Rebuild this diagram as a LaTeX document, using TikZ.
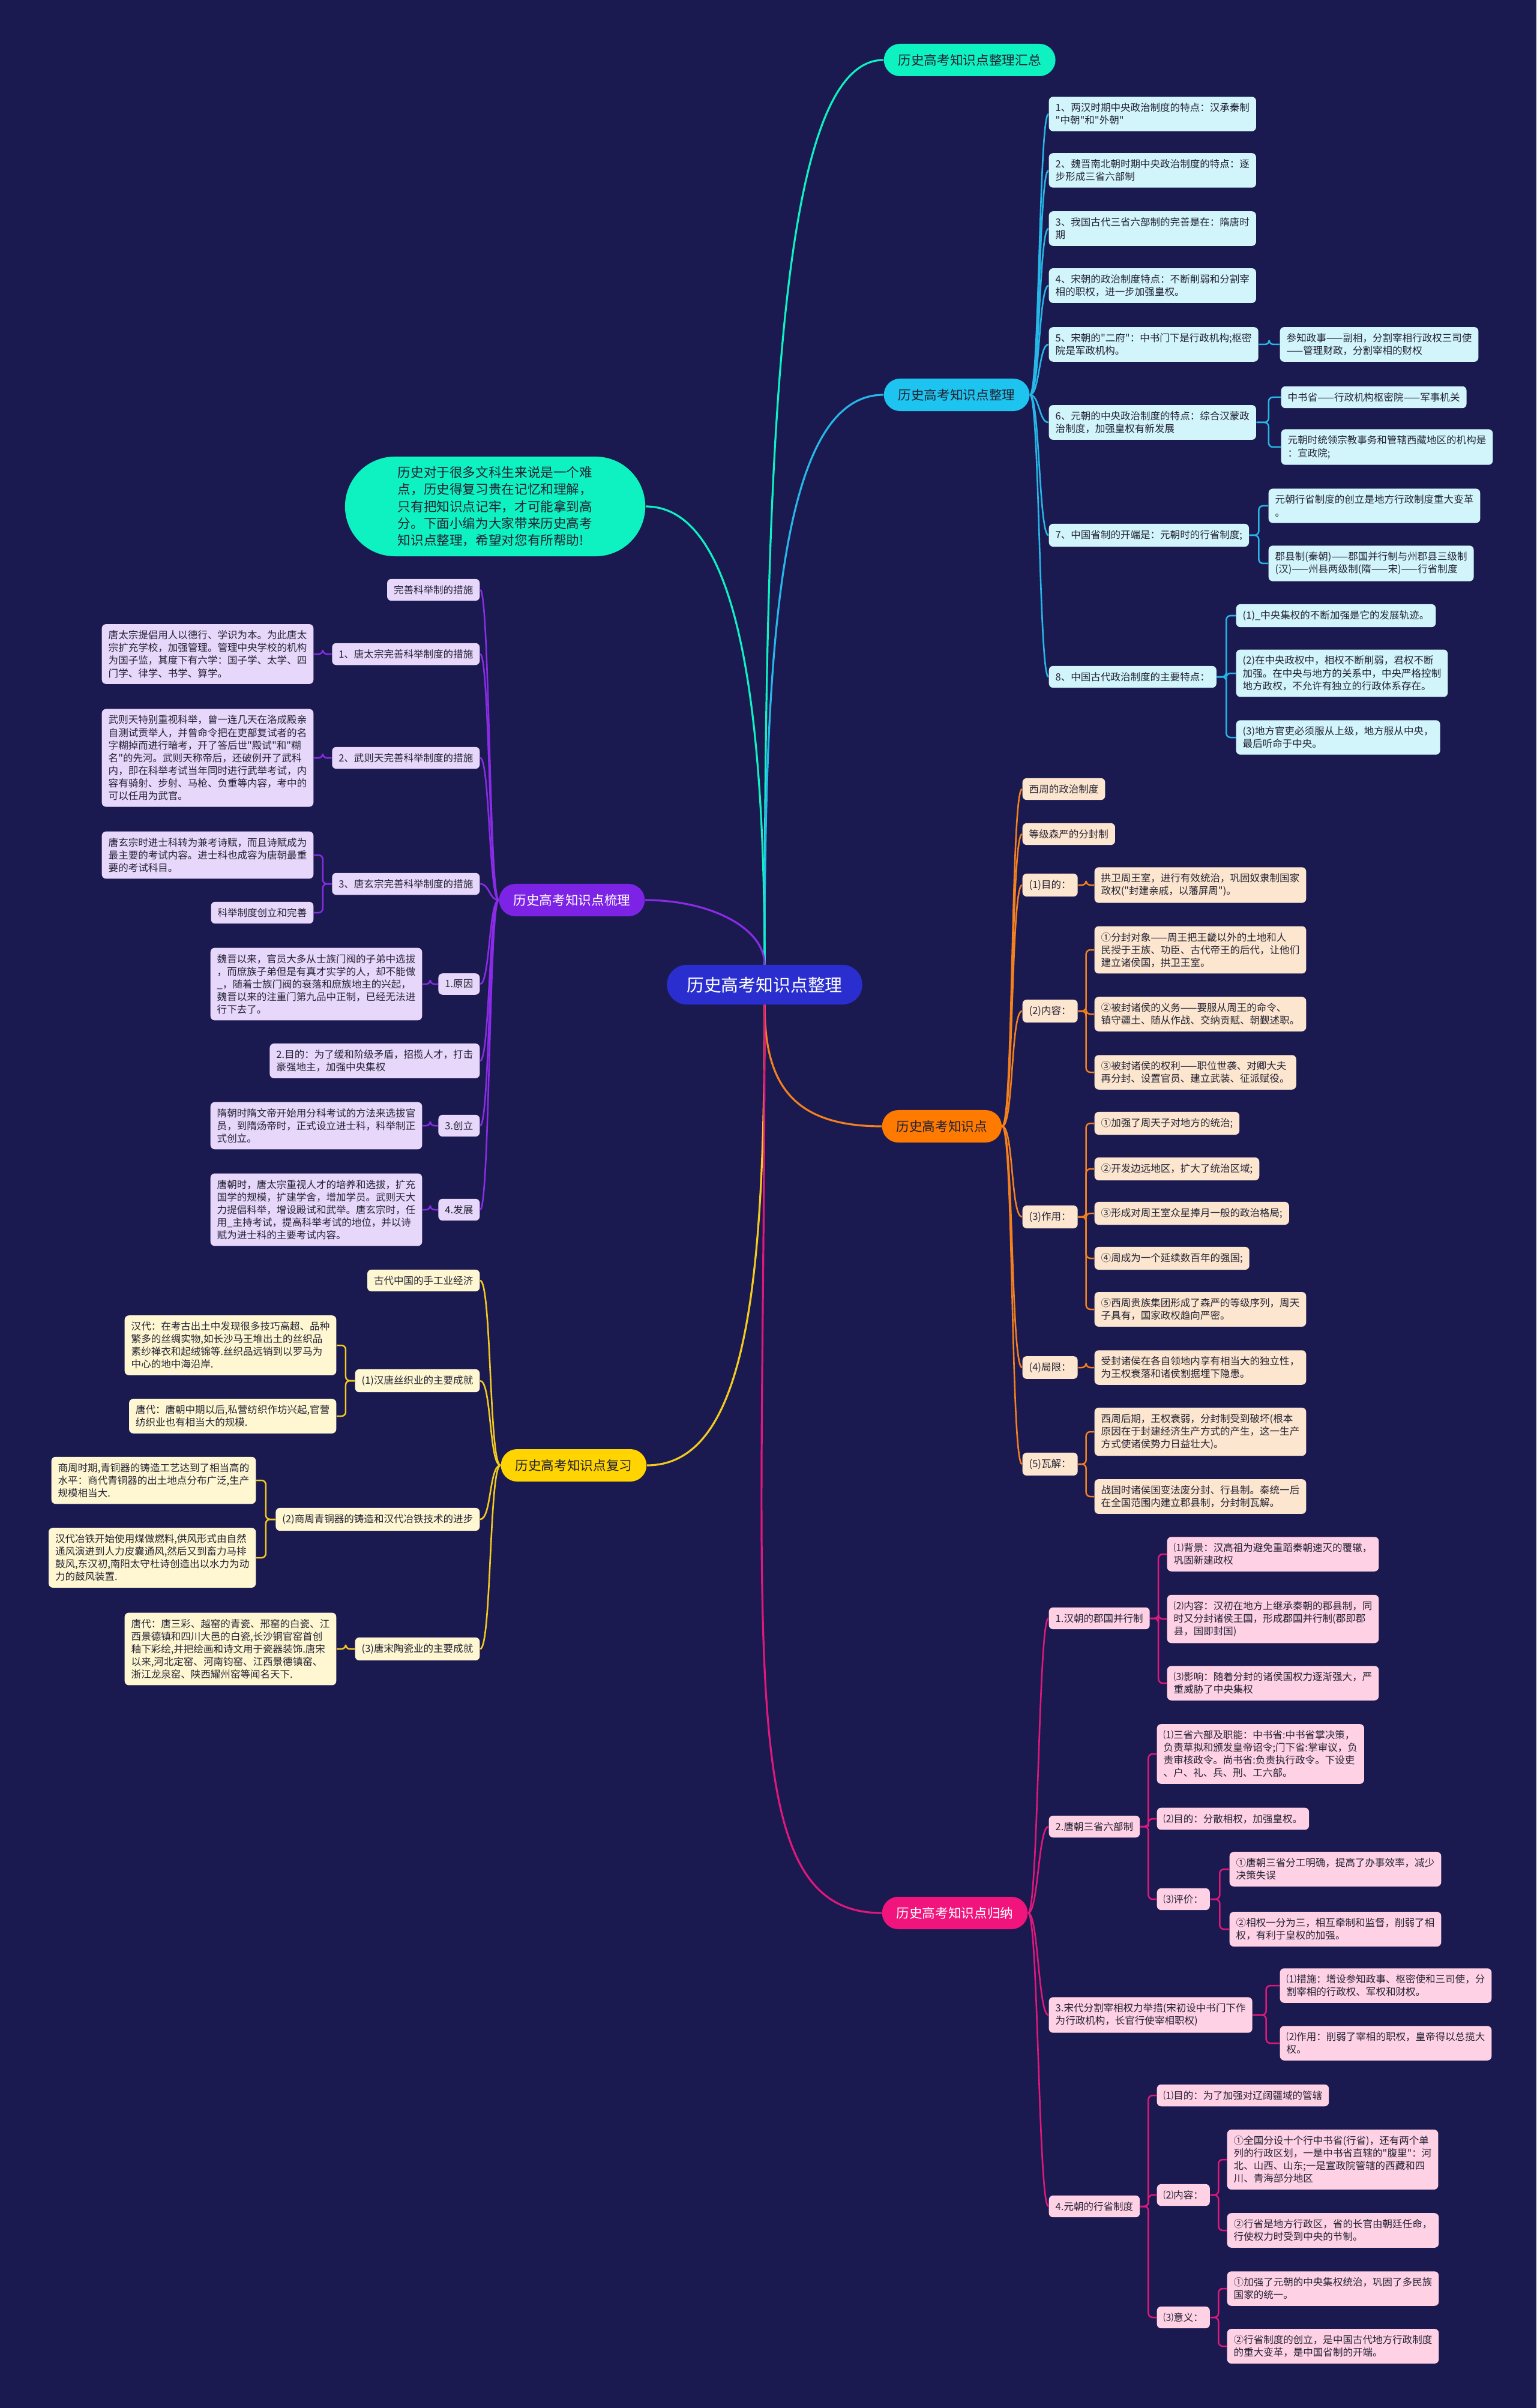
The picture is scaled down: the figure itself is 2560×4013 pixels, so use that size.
\documentclass[tikz,border=0pt]{standalone}
\usepackage{fontspec}
\setmainfont{Noto Sans CJK SC}
\newfontfamily\zhfont{Noto Sans CJK SC}
\usetikzlibrary{calc}

\definecolor{bgnavy}{HTML}{1B1A50}
\definecolor{rootblue}{HTML}{2A2ECF}
\definecolor{tealtop}{HTML}{0EF2C2}
\definecolor{cyantop}{HTML}{1DC4EF}
\definecolor{cyanlt}{HTML}{D2F5FC}
\definecolor{cyanln}{HTML}{26B7E8}
\definecolor{purptop}{HTML}{7C23E6}
\definecolor{purplt}{HTML}{E7D7FA}
\definecolor{purpln}{HTML}{8A2BE6}
\definecolor{orgtop}{HTML}{FF7A00}
\definecolor{orglt}{HTML}{FDE6CF}
\definecolor{orgln}{HTML}{F4801E}
\definecolor{yeltop}{HTML}{FFD400}
\definecolor{yellt}{HTML}{FFF7D2}
\definecolor{yelln}{HTML}{F3CB1E}
\definecolor{pinktop}{HTML}{F0147C}
\definecolor{pinklt}{HTML}{FFD1E5}
\definecolor{pinkln}{HTML}{E1187B}
\definecolor{inkdark}{HTML}{222233}

\tikzset{
  rootnode/.style={fill=rootblue, text=white, rounded corners=0.33cm, minimum height=0.66cm, inner xsep=0.33cm, font=\zhfont\fontsize{8.2pt}{10pt}\selectfont},
  intronode/.style={fill=tealtop, text=inkdark, rounded corners=0.83cm, minimum width=5.0cm, minimum height=1.66cm, align=left, font=\zhfont\fontsize{6.15pt}{8.1pt}\selectfont},
  topic/.style={rounded corners=0.27cm, minimum height=0.54cm, inner xsep=0.24cm, inner ysep=0.05cm, font=\zhfont\fontsize{6.15pt}{7.5pt}\selectfont},
  leaf/.style={rounded corners=0.07cm, inner xsep=0.11cm, inner ysep=0.105cm, align=left, text=inkdark, font=\zhfont\fontsize{4.7pt}{6pt}\selectfont},
  cyanleaf/.style={leaf, fill=cyanlt},
  purpleaf/.style={leaf, fill=purplt},
  orgleaf/.style={leaf, fill=orglt},
  yelleaf/.style={leaf, fill=yellt},
  pinkleaf/.style={leaf, fill=pinklt},
  rootlink/.style={line width=0.032cm},
  branch/.style={line width=0.026cm},
  elbow/.style={line width=0.025cm, rounded corners=0.07cm}
}

\begin{document}
\begin{tikzpicture}[x=0.01cm, y=-0.01cm]

    % Background
    \fill[bgnavy] (0,0) rectangle (2560,4013);

    % Root and the intro bubble
    \node[rootnode] (root) at (1274,1641) {历史高考知识点整理};
    \node[intronode] (intro) at (825,844) {历史对于很多文科生来说是一个难\\点，历史得复习贵在记忆和理解，\\只有把知识点记牢，才可能拿到高\\分。下面小编为大家带来历史高考\\知识点整理，希望对您有所帮助!};

    % Main topics
    \node[topic, fill=tealtop, text=inkdark, anchor=west] (sum) at (1472,100) {历史高考知识点整理汇总};
    \node[topic, fill=cyantop, text=inkdark, anchor=west] (zl) at (1472,658) {历史高考知识点整理};
    \node[topic, fill=purptop, text=white, anchor=east] (sl) at (1075,1500) {历史高考知识点梳理};
    \node[topic, fill=orgtop, text=inkdark, anchor=west] (zs) at (1469,1877) {历史高考知识点};
    \node[topic, fill=yeltop, text=inkdark, anchor=east] (fx) at (1078,2442) {历史高考知识点复习};
    \node[topic, fill=pinktop, text=white, anchor=west] (gn) at (1469,3188) {历史高考知识点归纳};

    % Cyan branch
    \node[cyanleaf, anchor=west] (z1) at (1747,190) {1、两汉时期中央政治制度的特点：汉承秦制\\"中朝"和"外朝"};
    \node[cyanleaf, anchor=west] (z2) at (1747,284) {2、魏晋南北朝时期中央政治制度的特点：逐\\步形成三省六部制};
    \node[cyanleaf, anchor=west] (z3) at (1747,381) {3、我国古代三省六部制的完善是在：隋唐时\\期};
    \node[cyanleaf, anchor=west] (z4) at (1747,476) {4、宋朝的政治制度特点：不断削弱和分割宰\\相的职权，进一步加强皇权。};
    \node[cyanleaf, anchor=west] (z5) at (1747,574) {5、宋朝的"二府"：中书门下是行政机构;枢密\\院是军政机构。};
    \node[cyanleaf, anchor=west] (z6) at (1747,704) {6、元朝的中央政治制度的特点：综合汉蒙政\\治制度，加强皇权有新发展};
    \node[cyanleaf, anchor=west] (z7) at (1747,892) {7、中国省制的开端是：元朝时的行省制度;};
    \node[cyanleaf, anchor=west] (z8) at (1747,1128) {8、中国古代政治制度的主要特点：};
    \node[cyanleaf, anchor=west] (z5a) at (2132,574) {参知政事——副相，分割宰相行政权三司使\\——管理财政，分割宰相的财权};
    \node[cyanleaf, anchor=west] (z6a) at (2134,662) {中书省——行政机构枢密院——军事机关};
    \node[cyanleaf, anchor=west] (z6b) at (2134,745) {元朝时统领宗教事务和管辖西藏地区的机构是\\：宣政院;};
    \node[cyanleaf, anchor=west] (z7a) at (2113,843) {元朝行省制度的创立是地方行政制度重大变革\\。};
    \node[cyanleaf, anchor=west] (z7b) at (2113,939) {郡县制(秦朝)——郡国并行制与州郡县三级制\\(汉)——州县两级制(隋——宋)——行省制度};
    \node[cyanleaf, anchor=west] (z8a) at (2059,1026) {(1)\_中央集权的不断加强是它的发展轨迹。};
    \node[cyanleaf, anchor=west] (z8b) at (2059,1122) {(2)在中央政权中，相权不断削弱，君权不断\\加强。在中央与地方的关系中，中央严格控制\\地方政权，不允许有独立的行政体系存在。};
    \node[cyanleaf, anchor=west] (z8c) at (2059,1229) {(3)地方官吏必须服从上级，地方服从中央，\\最后听命于中央。};

    % Purple branch
    \node[purpleaf, anchor=east] (p0) at (800,983) {完善科举制的措施};
    \node[purpleaf, anchor=east] (p1) at (800,1090) {1、唐太宗完善科举制度的措施};
    \node[purpleaf, anchor=east] (p2) at (800,1263) {2、武则天完善科举制度的措施};
    \node[purpleaf, anchor=east] (p3) at (800,1473) {3、唐玄宗完善科举制度的措施};
    \node[purpleaf, anchor=east] (p4) at (800,1640) {1.原因};
    \node[purpleaf, anchor=east] (p5) at (800,1768) {2.目的：为了缓和阶级矛盾，招揽人才，打击\\豪强地主，加强中央集权};
    \node[purpleaf, anchor=east] (p6) at (800,1876) {3.创立};
    \node[purpleaf, anchor=east] (p7) at (800,2016) {4.发展};
    \node[purpleaf, anchor=east] (p1a) at (523,1090) {唐太宗提倡用人以德行、学识为本。为此唐太\\宗扩充学校，加强管理。管理中央学校的机构\\为国子监，其度下有六学：国子学、太学、四\\门学、律学、书学、算学。};
    \node[purpleaf, anchor=east] (p2a) at (523,1263) {武则天特别重视科举，曾一连几天在洛成殿亲\\自测试贡举人，并曾命令把在吏部复试者的名\\字糊掉而进行暗考，开了答后世"殿试"和"糊\\名"的先河。武则天称帝后，还破例开了武科\\内，即在科举考试当年同时进行武举考试，内\\容有骑射、步射、马枪、负重等内容，考中的\\可以任用为武官。};
    \node[purpleaf, anchor=east] (p3a) at (523,1425) {唐玄宗时进士科转为兼考诗赋，而且诗赋成为\\最主要的考试内容。进士科也成容为唐朝最重\\要的考试科目。};
    \node[purpleaf, anchor=east] (p3b) at (523,1521) {科举制度创立和完善};
    \node[purpleaf, anchor=east] (p4a) at (704,1640) {魏晋以来，官员大多从士族门阀的子弟中选拔\\，而庶族子弟但是有真才实学的人，却不能做\\\_，随着士族门阀的衰落和庶族地主的兴起，\\魏晋以来的注重门第九品中正制，已经无法进\\行下去了。};
    \node[purpleaf, anchor=east] (p6a) at (704,1876) {隋朝时隋文帝开始用分科考试的方法来选拔官\\员，到隋炀帝时，正式设立进士科，科举制正\\式创立。};
    \node[purpleaf, anchor=east] (p7a) at (704,2016) {唐朝时，唐太宗重视人才的培养和选拔，扩充\\国学的规模，扩建学舍，增加学员。武则天大\\力提倡科举，增设殿试和武举。唐玄宗时，任\\用\_主持考试，提高科举考试的地位，并以诗\\赋为进士科的主要考试内容。};

    % Orange branch
    \node[orgleaf, anchor=west] (o1) at (1703,1315) {西周的政治制度};
    \node[orgleaf, anchor=west] (o2) at (1703,1390) {等级森严的分封制};
    \node[orgleaf, anchor=west] (o3) at (1703,1475) {(1)目的：};
    \node[orgleaf, anchor=west] (o4) at (1703,1685) {(2)内容：};
    \node[orgleaf, anchor=west] (o5) at (1703,2028) {(3)作用：};
    \node[orgleaf, anchor=west] (o6) at (1703,2279) {(4)局限：};
    \node[orgleaf, anchor=west] (o7) at (1703,2440) {(5)瓦解：};
    \node[orgleaf, anchor=west] (o3a) at (1823,1475) {拱卫周王室，进行有效统治，巩固奴隶制国家\\政权("封建亲戚，以藩屏周")。};
    \node[orgleaf, anchor=west] (o4a) at (1823,1583) {①分封对象——周王把王畿以外的土地和人\\民授于王族、功臣、古代帝王的后代，让他们\\建立诸侯国，拱卫王室。};
    \node[orgleaf, anchor=west] (o4b) at (1823,1690) {②被封诸侯的义务——要服从周王的命令、\\镇守疆土、随从作战、交纳贡赋、朝觐述职。};
    \node[orgleaf, anchor=west] (o4c) at (1823,1787) {③被封诸侯的权利——职位世袭、对卿大夫\\再分封、设置官员、建立武装、征派赋役。};
    \node[orgleaf, anchor=west] (o5a) at (1823,1872) {①加强了周天子对地方的统治;};
    \node[orgleaf, anchor=west] (o5b) at (1823,1948) {②开发边远地区，扩大了统治区域;};
    \node[orgleaf, anchor=west] (o5c) at (1823,2022) {③形成对周王室众星捧月一般的政治格局;};
    \node[orgleaf, anchor=west] (o5d) at (1823,2097) {④周成为一个延续数百年的强国;};
    \node[orgleaf, anchor=west] (o5e) at (1823,2182) {⑤西周贵族集团形成了森严的等级序列，周天\\子具有，国家政权趋向严密。};
    \node[orgleaf, anchor=west] (o6a) at (1823,2279) {受封诸侯在各自领地内享有相当大的独立性，\\为王权衰落和诸侯割据埋下隐患。};
    \node[orgleaf, anchor=west] (o7a) at (1823,2386) {西周后期，王权衰弱，分封制受到破坏(根本\\原因在于封建经济生产方式的产生，这一生产\\方式使诸侯势力日益壮大)。};
    \node[orgleaf, anchor=west] (o7b) at (1823,2494) {战国时诸侯国变法废分封、行县制。秦统一后\\在全国范围内建立郡县制，分封制瓦解。};

    % Yellow branch
    \node[yelleaf, anchor=east] (y0) at (800,2134) {古代中国的手工业经济};
    \node[yelleaf, anchor=east] (y1) at (800,2301) {(1)汉唐丝织业的主要成就};
    \node[yelleaf, anchor=east] (y2) at (800,2532) {(2)商周青铜器的铸造和汉代冶铁技术的进步};
    \node[yelleaf, anchor=east] (y3) at (800,2748) {(3)唐宋陶瓷业的主要成就};
    \node[yelleaf, anchor=east] (y1a) at (561,2242) {汉代：在考古出土中发现很多技巧高超、品种\\繁多的丝绸实物,如长沙马王堆出土的丝织品\\素纱禅衣和起绒锦等.丝织品远销到以罗马为\\中心的地中海沿岸.};
    \node[yelleaf, anchor=east] (y1b) at (561,2360) {唐代：唐朝中期以后,私营纺织作坊兴起,官营\\纺织业也有相当大的规模.};
    \node[yelleaf, anchor=east] (y2a) at (427,2467) {商周时期,青铜器的铸造工艺达到了相当高的\\水平：商代青铜器的出土地点分布广泛,生产\\规模相当大.};
    \node[yelleaf, anchor=east] (y2b) at (427,2596) {汉代冶铁开始使用煤做燃料,供风形式由自然\\通风演进到人力皮囊通风,然后又到畜力马排\\鼓风,东汉初,南阳太守杜诗创造出以水力为动\\力的鼓风装置.};
    \node[yelleaf, anchor=east] (y3a) at (561,2748) {唐代：唐三彩、越窑的青瓷、邢窑的白瓷、江\\西景德镇和四川大邑的白瓷,长沙铜官窑首创\\釉下彩绘,并把绘画和诗文用于瓷器装饰.唐宋\\以来,河北定窑、河南钧窑、江西景德镇窑、\\浙江龙泉窑、陕西耀州窑等闻名天下.};

    % Pink branch
    \node[pinkleaf, anchor=west] (g1) at (1747,2697) {1.汉朝的郡国并行制};
    \node[pinkleaf, anchor=west] (g2) at (1747,3044) {2.唐朝三省六部制};
    \node[pinkleaf, anchor=west] (g3) at (1747,3358) {3.宋代分割宰相权力举措(宋初设中书门下作\\为行政机构，长官行使宰相职权)};
    \node[pinkleaf, anchor=west] (g4) at (1747,3677) {4.元朝的行省制度};
    \node[pinkleaf, anchor=west] (g1a) at (1944,2590) {⑴背景：汉高祖为避免重蹈秦朝速灭的覆辙，\\巩固新建政权};
    \node[pinkleaf, anchor=west] (g1b) at (1944,2698) {⑵内容：汉初在地方上继承秦朝的郡县制，同\\时又分封诸侯王国，形成郡国并行制(郡即郡\\县，国即封国)};
    \node[pinkleaf, anchor=west] (g1c) at (1944,2805) {⑶影响：随着分封的诸侯国权力逐渐强大，严\\重威胁了中央集权};
    \node[pinkleaf, anchor=west] (g2a) at (1927,2923) {⑴三省六部及职能：中书省:中书省掌决策，\\负责草拟和颁发皇帝诏令;门下省:掌审议，负\\责审核政令。尚书省:负责执行政令。下设吏\\、户、礼、兵、刑、工六部。};
    \node[pinkleaf, anchor=west] (g2b) at (1927,3031) {⑵目的：分散相权，加强皇权。};
    \node[pinkleaf, anchor=west] (g2c) at (1927,3165) {⑶评价：};
    \node[pinkleaf, anchor=west] (g2c1) at (2048,3115) {①唐朝三省分工明确，提高了办事效率，减少\\决策失误};
    \node[pinkleaf, anchor=west] (g2c2) at (2048,3215) {②相权一分为三，相互牵制和监督，削弱了相\\权，有利于皇权的加强。};
    \node[pinkleaf, anchor=west] (g3a) at (2132,3309) {⑴措施：增设参知政事、枢密使和三司使，分\\割宰相的行政权、军权和财权。};
    \node[pinkleaf, anchor=west] (g3b) at (2132,3405) {⑵作用：削弱了宰相的职权，皇帝得以总揽大\\权。};
    \node[pinkleaf, anchor=west] (g4a) at (1927,3492) {⑴目的：为了加强对辽阔疆域的管辖};
    \node[pinkleaf, anchor=west] (g4b) at (1927,3658) {⑵内容：};
    \node[pinkleaf, anchor=west] (g4c) at (1927,3862) {⑶意义：};
    \node[pinkleaf, anchor=west] (g4b1) at (2044,3599) {①全国分设十个行中书省(行省)，还有两个单\\列的行政区划，一是中书省直辖的"腹里"：河\\北、山西、山东;一是宣政院管辖的西藏和四\\川、青海部分地区};
    \node[pinkleaf, anchor=west] (g4b2) at (2044,3717) {②行省是地方行政区，省的长官由朝廷任命，\\行使权力时受到中央的节制。};
    \node[pinkleaf, anchor=west] (g4c1) at (2044,3814) {①加强了元朝的中央集权统治，巩固了多民族\\国家的统一。};
    \node[pinkleaf, anchor=west] (g4c2) at (2044,3910) {②行省制度的创立，是中国古代地方行政制度\\的重大变革，是中国省制的开端。};

    % Curves from the root
    \draw[tealtop, rootlink] (root.north) .. controls +(0,-900) and +(-170,0) .. (sum.west);
    \draw[cyanln, rootlink] (root.north) .. controls +(0,-550) and +(-170,0) .. (zl.west);
    \draw[tealtop, rootlink] (root.north) .. controls +(0,-450) and +(150,0) .. (intro.east);
    \draw[purpln, rootlink] (root.north) .. controls +(0,-60) and +(110,0) .. (sl.east);
    \draw[orgln, rootlink] (root.south) .. controls +(0,130) and +(-150,0) .. (zs.west);
    \draw[yelln, rootlink] (root.south) .. controls +(0,450) and +(170,0) .. (fx.east);
    \draw[pinkln, rootlink] (root.south) .. controls +(0,1100) and +(-250,0) .. (gn.west);

    % Topic to first level
    \foreach \c in {z1,z2,z3,z4,z5,z6,z7,z8}
        \draw[cyanln, branch] (zl.east) .. controls +(16,0) and +(-16,0) .. (\c.west);
    \foreach \c in {p0,p1,p2,p3,p4,p5,p6,p7}
        \draw[purpln, branch] (sl.west) .. controls +(-16,0) and +(16,0) .. (\c.east);
    \foreach \c in {o1,o2,o3,o4,o5,o6,o7}
        \draw[orgln, branch] (zs.east) .. controls +(19,0) and +(-19,0) .. (\c.west);
    \foreach \c in {y0,y1,y2,y3}
        \draw[yelln, branch] (fx.west) .. controls +(-19,0) and +(19,0) .. (\c.east);
    \foreach \c in {g1,g2,g3,g4}
        \draw[pinkln, branch] (gn.east) .. controls +(17,0) and +(-17,0) .. (\c.west);

    % Elbows on the right side
    \foreach \a/\b/\col in {z5/z5a/cyanln, z6/z6a/cyanln, z6/z6b/cyanln, z7/z7a/cyanln, z7/z7b/cyanln,
        z8/z8a/cyanln, z8/z8b/cyanln, z8/z8c/cyanln,
        o3/o3a/orgln, o4/o4a/orgln, o4/o4b/orgln, o4/o4c/orgln, o5/o5a/orgln, o5/o5b/orgln,
        o5/o5c/orgln, o5/o5d/orgln, o5/o5e/orgln, o6/o6a/orgln, o7/o7a/orgln, o7/o7b/orgln,
        g1/g1a/pinkln, g1/g1b/pinkln, g1/g1c/pinkln, g2/g2a/pinkln, g2/g2b/pinkln, g2/g2c/pinkln,
        g2c/g2c1/pinkln, g2c/g2c2/pinkln, g3/g3a/pinkln, g3/g3b/pinkln, g4/g4a/pinkln,
        g4/g4b/pinkln, g4/g4c/pinkln, g4b/g4b1/pinkln, g4b/g4b2/pinkln, g4c/g4c1/pinkln, g4c/g4c2/pinkln}
        \draw[\col, elbow] (\a.east) -| ($(\a.east)!.5!(\b.west)$) |- (\b.west);

    % Elbows on the left side
    \foreach \a/\b/\col in {p1/p1a/purpln, p2/p2a/purpln, p3/p3a/purpln, p3/p3b/purpln,
        p4/p4a/purpln, p6/p6a/purpln, p7/p7a/purpln,
        y1/y1a/yelln, y1/y1b/yelln, y2/y2a/yelln, y2/y2b/yelln, y3/y3a/yelln}
        \draw[\col, elbow] (\a.west) -| ($(\a.west)!.5!(\b.east)$) |- (\b.east);

\end{tikzpicture}
\end{document}
